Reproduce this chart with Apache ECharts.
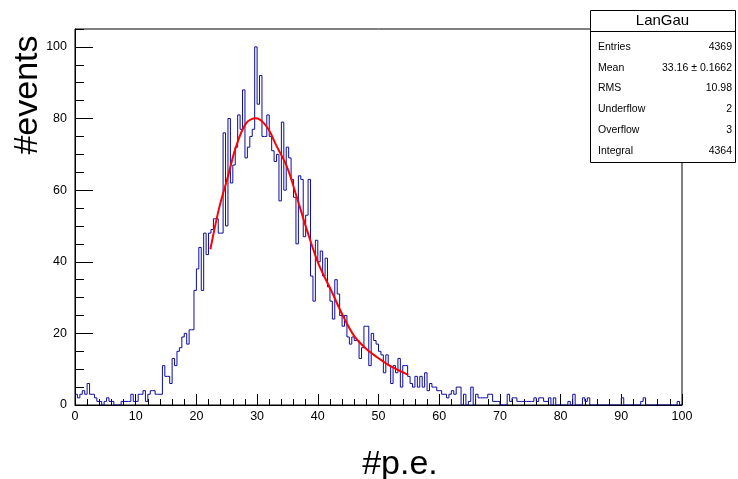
<!DOCTYPE html>
<html>
<head>
<meta charset="utf-8">
<script src="https://cdn.jsdelivr.net/npm/echarts@6/dist/echarts.min.js"></script>
<style>
  html, body { margin: 0; padding: 0; background: #ffffff; }
  #chart { width: 738px; height: 479px; }
</style>
</head>
<body>
<div id="chart"></div>
<script>
// Histogram binning: 250 bins from 0 to 100
const binLow = 0;
const binWidth = 0.4;

// Bin contents (#events per bin)
const counts = [
  3,2,3,4,3,6,3,3,2,1, 1,0,1,2,1,1,0,0,0,1, 1,1,1,3,1,
  1,3,3,4,1,3,4,4,3,3, 3,11,8,8,6,13,11,15,16,19, 20,17,21,21,
  32,38,44,32,48,42,48,49,52,52,48,48,
  76,50,80,62,67,72,81,77,88,69,72,75,77,100,
  84,92,75,75,81,75,71,68,70,57,79,60,72,69,
  63,58,45,64,63,47,53,63,36,29,46,40,
  43,36,41,33,29,24,35,31,25,22,25,19,17,19,18,18,13,16,22,22,11,20,18,17,15,
  14,9,14,11,6,11,9,13,5,11,11,8,6,5,8,5,8,5,9,4,6,5,5,4,4,
  3,3,2,3,4,3,5,5,0,3, 0,1,5,0,3,2,2,2,2,3, 3,1,1,1,0,0,0,3,1,2,
  2,1,1,1,1,1,1,1,2,1, 2,2,1,1,2,0,2,0,0,
  0,0,0,1,0,3,0,0,0,2, 1,2,0,0,0,0,0,0,0,0, 0,0,0,0,0,2,0,0,0,0,
  0,0,0,1,2,0,0,0,0,0, 0,0,0,0,0,0,0,0,1,0
];

// Landau (x) Gauss fit curve, sampled points
const fitX = [22.3, 23.8, 25.2, 26.5, 28.2, 29.8, 31.6, 33.3, 34.9, 36.6, 38.2, 40.1, 42.2, 44.2, 46.1, 48.3, 50.4, 51.9, 54.9];
const fitY = [43.5, 55.4, 63.8, 72.0, 78.7, 80.1, 77.7, 72.0, 66.6, 57.7, 48.9, 39.5, 32.0, 24.7, 19.0, 15.2, 12.6, 10.9, 8.4];

// Axis ticks
const xTicks = [0, 10, 20, 30, 40, 50, 60, 70, 80, 90, 100];
const yTicks = [0, 20, 40, 60, 80, 100];

// Statistics box contents
const statsTitle = 'LanGau';
const statsNames = ['Entries', 'Mean', 'RMS', 'Underflow', 'Overflow', 'Integral'];
const statsValues = ['4369', '33.16 \u00b1 0.1662', '10.98', '2', '3', '4364'];

const FONT = '"Liberation Sans", Helvetica, Arial, sans-serif';

// Step outline: left edge of every bin, plus the closing upper edge
const histData = counts.map((c, i) => [binLow + i * binWidth, c]);
histData.push([binLow + counts.length * binWidth, counts[counts.length - 1]]);

const fitData = fitX.map((x, i) => [x, fitY[i]]);

const chart = echarts.init(document.getElementById('chart'), null, { renderer: 'canvas' });

const gridLeft = 75, gridRight = 56, gridTop = 29, gridBottom = 74;

// Stats box graphics
const boxL = 590, boxT = 10, boxW = 145, boxH = 152;
const rowY0 = 47, rowStep = 20.8;
const statsGraphics = [
  { type: 'rect', shape: { x: boxL + 0.5, y: boxT + 0.5, width: boxW, height: boxH },
    style: { fill: '#ffffff', stroke: '#000000', lineWidth: 1 }, z: 100 },
  { type: 'line', shape: { x1: boxL, y1: boxT + 21.5, x2: boxL + boxW, y2: boxT + 21.5 },
    style: { stroke: '#000000', lineWidth: 1 }, z: 101 },
  { type: 'text', x: boxL + boxW / 2, y: boxT + 11, z: 101,
    style: { text: statsTitle, font: '15px ' + FONT, fill: '#000', align: 'center', verticalAlign: 'middle' } }
];
statsNames.forEach((n, i) => {
  statsGraphics.push({ type: 'text', x: boxL + 8, y: rowY0 + i * rowStep, z: 101,
    style: { text: n, font: '10.5px ' + FONT, fill: '#000', align: 'left', verticalAlign: 'middle' } });
  statsGraphics.push({ type: 'text', x: boxL + boxW - 3, y: rowY0 + i * rowStep, z: 101,
    style: { text: statsValues[i], font: '10.5px ' + FONT, fill: '#000', align: 'right', verticalAlign: 'middle' } });
});

const option = {
  backgroundColor: '#ffffff',
  animation: false,
  grid: {
    left: gridLeft, right: gridRight, top: gridTop, bottom: gridBottom,
    show: true, borderColor: '#000000', borderWidth: 1, backgroundColor: 'transparent'
  },
  xAxis: {
    type: 'value', min: 0, max: 100, interval: 10,
    axisLine: { show: true, lineStyle: { color: '#000', width: 1 } },
    axisTick: { show: true, inside: true, length: 11, lineStyle: { color: '#000' } },
    minorTick: { show: true, splitNumber: 5, length: 6, lineStyle: { color: '#000' } },
    axisLabel: {
      customValues: xTicks, color: '#000', fontSize: 12.5, fontFamily: FONT, margin: 5
    },
    splitLine: { show: false }
  },
  yAxis: [
    {
      // fine ticks every 5 events
      type: 'value', min: 0, max: 105, interval: 5,
      axisLine: { show: true, lineStyle: { color: '#000', width: 1 } },
      axisTick: { show: true, inside: true, length: 9, lineStyle: { color: '#000' } },
      axisLabel: { show: false },
      splitLine: { show: false }
    },
    {
      // labelled ticks every 20 events
      type: 'value', min: 0, max: 105, interval: 20, position: 'left',
      axisLine: { show: false },
      axisTick: { show: true, inside: true, length: 18, customValues: yTicks, lineStyle: { color: '#000' } },
      axisLabel: { customValues: yTicks, color: '#000', fontSize: 12.5, fontFamily: FONT, margin: 8 },
      splitLine: { show: false }
    }
  ],
  series: [
    {
      name: 'hist', type: 'line', step: 'end', data: histData,
      showSymbol: false, symbol: 'none',
      lineStyle: { color: '#0c0ca0', width: 1 },
      z: 3
    },
    {
      name: 'fit', type: 'line', data: fitData, smooth: 0.35,
      showSymbol: false, symbol: 'none',
      lineStyle: { color: '#ff0000', width: 2 },
      z: 4
    }
  ],
  graphic: [
    { type: 'text', x: 28, y: 95, rotation: Math.PI / 2, z: 50,
      style: { text: '#events', font: '34px ' + FONT, fill: '#000', align: 'center', verticalAlign: 'middle' } },
    { type: 'text', x: 400, y: 465, z: 50,
      style: { text: '#p.e.', font: '34px ' + FONT, fill: '#000', align: 'center', verticalAlign: 'middle' } }
  ].concat(statsGraphics)
};

chart.setOption(option);
</script>
</body>
</html>
